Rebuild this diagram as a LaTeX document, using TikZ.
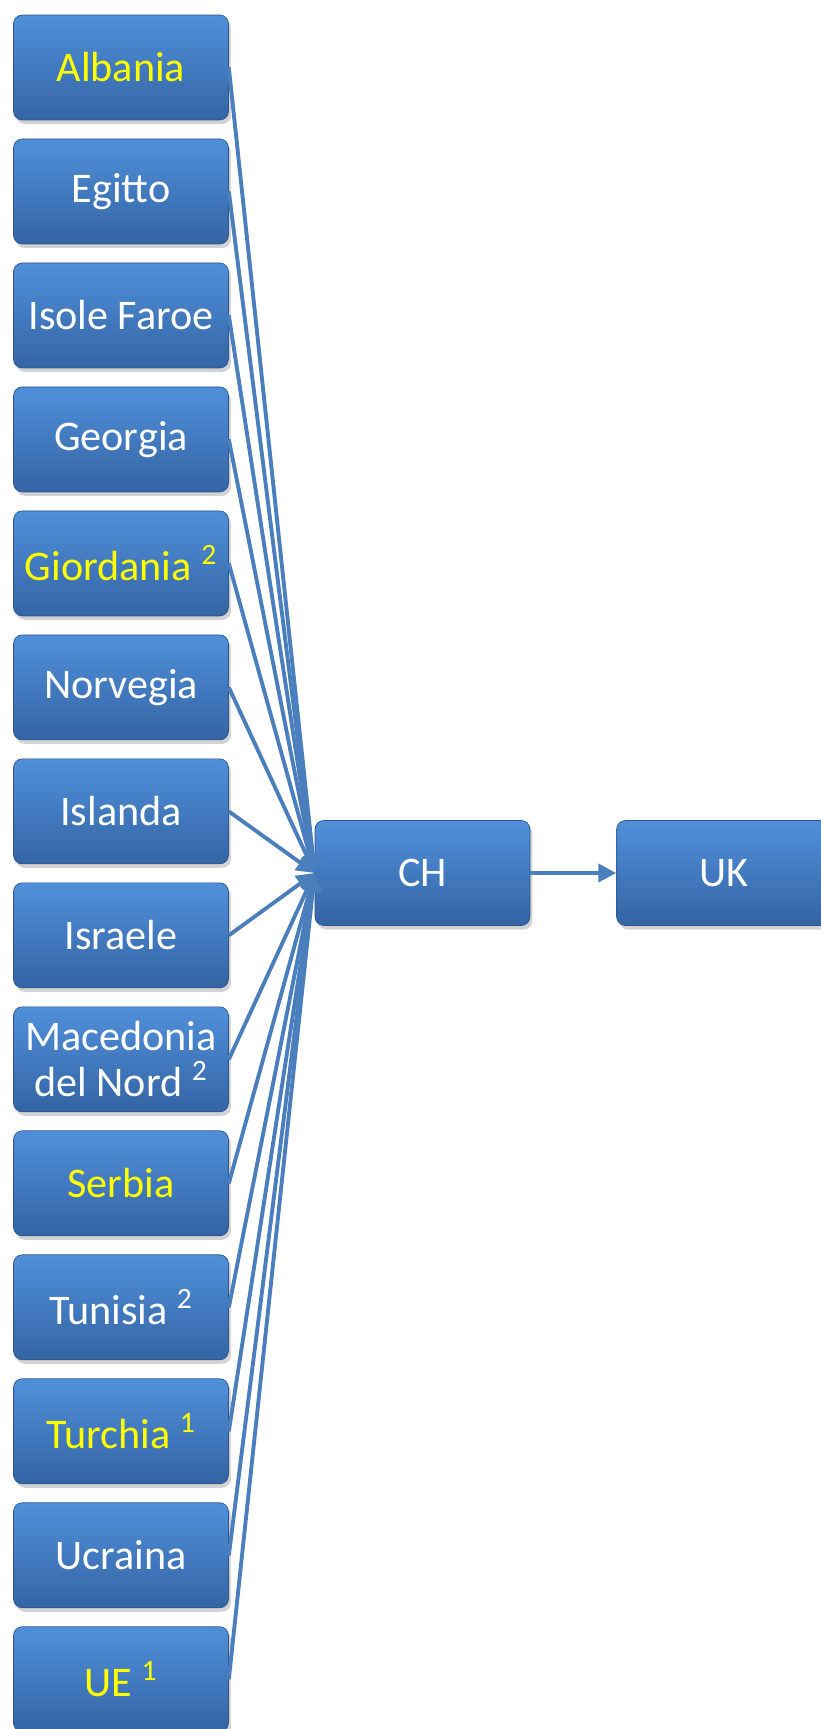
\documentclass[tikz,border=0pt]{standalone}
\usepackage{fontspec}
\setmainfont{Carlito}
\usetikzlibrary{positioning,shadows,arrows.meta}
\definecolor{boxtop}{RGB}{80,144,218}
\definecolor{boxbot}{RGB}{52,100,164}
\definecolor{linkblue}{RGB}{74,126,188}
\definecolor{labelyellow}{RGB}{255,255,0}

\begin{document}
\begin{tikzpicture}[
    x=0.02cm, y=-0.02cm,
    country/.style={draw=boxbot!85!black, line width=0.4pt, rounded corners=5pt,
        top color=boxtop, bottom color=boxbot, minimum width=4.3cm, minimum height=2.1cm,
        text=white, font=\fontsize{24}{26}\selectfont, align=center, inner sep=1pt,
        drop shadow={opacity=0.35, shadow xshift=0.5mm, shadow yshift=-0.8mm}},
    hl/.style={text=labelyellow},
    link/.style={draw=linkblue, line width=2.2pt, -{Triangle[length=3.6mm,width=3.6mm]}},
    node distance=0.366cm
]
    \useasboundingbox (0,0) rectangle (821,1729);
    % paesi a sinistra
    \node [country, hl] (albania) at (121,67.5) {Albania};
    \node [country, below=of albania] (egitto) {Egitto};
    \node [country, below=of egitto] (faroe) {Isole Faroe};
    \node [country, below=of faroe] (georgia) {Georgia};
    \node [country, hl, below=of georgia] (giordania) {Giordania \textsuperscript{2}};
    \node [country, below=of giordania] (norvegia) {Norvegia};
    \node [country, below=of norvegia] (islanda) {Islanda};
    \node [country, below=of islanda] (israele) {Israele};
    \node [country, below=of israele] (macedonia) {Macedonia\\del Nord \textsuperscript{2}};
    \node [country, hl, below=of macedonia] (serbia) {Serbia};
    \node [country, below=of serbia] (tunisia) {Tunisia \textsuperscript{2}};
    \node [country, hl, below=of tunisia] (turchia) {Turchia \textsuperscript{1}};
    \node [country, below=of turchia] (ucraina) {Ucraina};
    \node [country, hl, below=of ucraina] (ue) {UE \textsuperscript{1}};
    % CH e UK
    \node [country] (ch) at (422.5,873) {CH};
    \node [country, right=1.72cm of ch] (uk) {UK};

    \foreach \c in {albania,egitto,faroe,georgia,giordania,norvegia,islanda,israele,
                    macedonia,serbia,tunisia,turchia,ucraina,ue}
        \draw [link] (\c.east) -- (ch.west);
    \draw [link] (ch) -- (uk);
\end{tikzpicture}
\end{document}
